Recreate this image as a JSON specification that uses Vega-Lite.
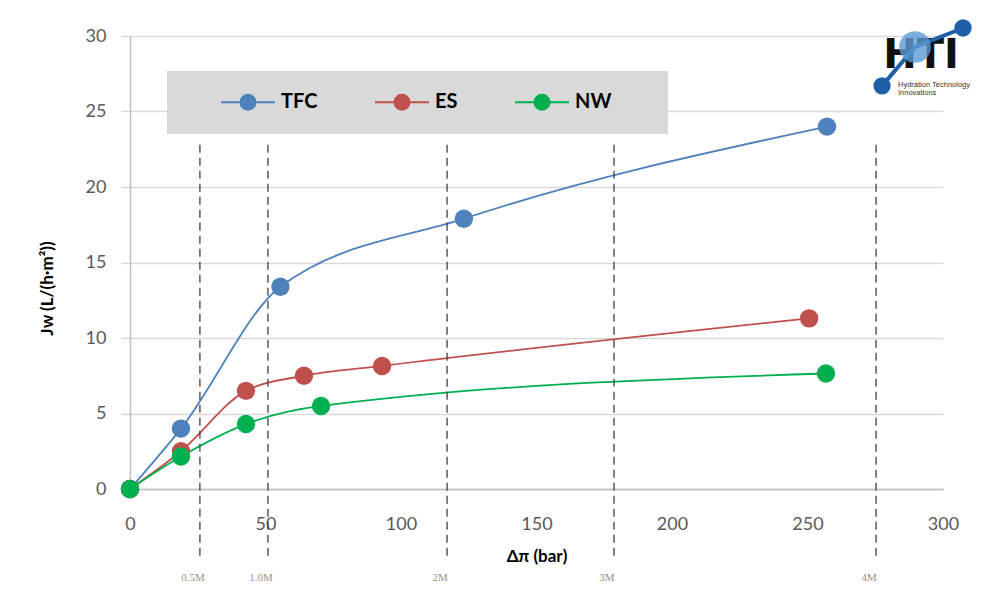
{
  "$schema": "https://vega.github.io/schema/vega-lite/v6.json",
  "width": 813,
  "height": 453,
  "autosize": {"type": "none"},
  "padding": {"left": 130, "top": 36, "right": 56, "bottom": 125},
  "background": "#ffffff",
  "config": {"view": {"stroke": null}},
  "datasets": {
    "series": [
      {"series": "TFC", "x": 0, "y": 0},
      {"series": "TFC", "x": 18.8, "y": 4.0},
      {"series": "TFC", "x": 55.5, "y": 13.4},
      {"series": "TFC", "x": 123.2, "y": 17.9},
      {"series": "TFC", "x": 257.2, "y": 24.0},
      {"series": "ES", "x": 0, "y": 0},
      {"series": "ES", "x": 18.8, "y": 2.5},
      {"series": "ES", "x": 42.8, "y": 6.5},
      {"series": "ES", "x": 64.2, "y": 7.5},
      {"series": "ES", "x": 93.0, "y": 8.15},
      {"series": "ES", "x": 250.6, "y": 11.3},
      {"series": "NW", "x": 0, "y": 0},
      {"series": "NW", "x": 18.8, "y": 2.15},
      {"series": "NW", "x": 42.8, "y": 4.3},
      {"series": "NW", "x": 70.5, "y": 5.5},
      {"series": "NW", "x": 256.8, "y": 7.65}
    ],
    "markers": [
      {"label": "0.5M", "x": 25.8},
      {"label": "1.0M", "x": 50.9},
      {"label": "2M", "x": 117.0},
      {"label": "3M", "x": 178.6},
      {"label": "4M", "x": 275.3}
    ],
    "logoDots": [
      {"part": "a", "x": 277.5, "y": 26.7},
      {"part": "b", "x": 289.7, "y": 29.27},
      {"part": "c", "x": 307.4, "y": 30.53}
    ]
  },
  "encoding": {
    "x": {
      "field": "x", "type": "quantitative",
      "scale": {"domain": [0, 300], "nice": false, "zero": false},
      "axis": {
        "title": "Δπ (bar)",
        "values": [0, 50, 100, 150, 200, 250, 300],
        "grid": false, "ticks": false, "labelFlush": false,
        "domainColor": "#bfbfbf", "domainWidth": 1.5,
        "labelFont": "Lato", "labelFontSize": 18, "labelColor": "#595959",
        "labelPadding": 26,
        "titleFont": "Lato", "titleFontSize": 17, "titleFontWeight": "bold", "titleColor": "#000000",
        "titleY": 67, "titleBaseline": "middle"
      }
    }
  },
  "layer": [
    {
      "data": {"name": "series"},
      "mark": {"type": "line", "interpolate": "monotone", "strokeWidth": 1.8},
      "encoding": {
        "y": {
          "field": "y", "type": "quantitative",
          "scale": {"domain": [0, 30], "nice": false, "zero": false},
          "axis": {
            "title": "Jw (L/(h·m²))",
            "values": [0, 5, 10, 15, 20, 25, 30],
            "grid": true, "gridColor": "#d9d9d9", "gridWidth": 1.5, "labelFlush": false,
            "domainColor": "#bfbfbf", "domainWidth": 1.5,
            "tickColor": "#d9d9d9", "tickSize": 9, "tickWidth": 1.5,
            "labelFont": "Lato", "labelFontSize": 18, "labelColor": "#595959",
            "labelPadding": 15,
            "titleFont": "Lato", "titleFontSize": 17, "titleFontWeight": "bold", "titleColor": "#000000",
            "titleX": -83, "titleY": 252, "titleBaseline": "middle"
          }
        },
        "color": {
          "field": "series", "type": "nominal",
          "scale": {"domain": ["TFC", "ES", "NW"], "range": ["#4f81bd", "#c0504d", "#00b050"]},
          "legend": {
            "orient": "none", "legendX": 37, "legendY": 35,
            "direction": "horizontal", "title": " ", "titleOrient": "right",
            "titleFontSize": 1, "titlePadding": 37,
            "fillColor": "#d9d9d9", "padding": 20,
            "symbolType": "M-2.7,0L2.7,0M-0.75,0A0.75,0.75,0,1,1,0.75,0A0.75,0.75,0,1,1,-0.75,0Z",
            "symbolSize": 400, "symbolStrokeWidth": 2,
            "symbolOffset": 50, "labelOffset": 22, "columnPadding": 23,
            "labelFont": "Lato", "labelFontSize": 20, "labelFontWeight": "bold", "labelColor": "#000000",
            "encode": {
              "symbols": {"update": {
                "fill": {"scale": "color", "field": "value"},
                "stroke": {"scale": "color", "field": "value"},
                "opacity": {"value": 1}
              }}
            }
          }
        }
      }
    },
    {
      "data": {"name": "markers"},
      "mark": {"type": "rule", "color": "#404040", "strokeWidth": 1.3, "strokeDash": [8, 5]},
      "encoding": {"y": {"datum": 22.8, "type": "quantitative"}, "y2": {"datum": -4.5}}
    },
    {
      "data": {"name": "markers"},
      "mark": {"type": "text", "font": "Liberation Serif", "fontSize": 11, "color": "#9b8f82", "dx": -7, "baseline": "middle"},
      "encoding": {"y": {"datum": -5.9, "type": "quantitative"}, "text": {"field": "label", "type": "nominal"}}
    },
    {
      "data": {"name": "series"},
      "mark": {"type": "point", "filled": true, "size": 340, "opacity": 1},
      "encoding": {"y": {"field": "y", "type": "quantitative"}, "color": {"field": "series", "type": "nominal"}}
    },
    {
      "data": {"values": [{"t": "HTI", "px": 291.9, "py": 27.85}]},
      "mark": {"type": "text", "font": "DejaVu Sans", "fontWeight": "bold", "fontSize": 40, "color": "#111111", "baseline": "alphabetic"},
      "encoding": {"x": {"field": "px", "type": "quantitative"}, "y": {"field": "py", "type": "quantitative"}, "text": {"field": "t", "type": "nominal"}}
    },
    {
      "data": {"name": "logoDots"},
      "mark": {"type": "line", "color": "#1f5fa8", "strokeWidth": 4},
      "encoding": {"y": {"field": "y", "type": "quantitative"}}
    },
    {
      "data": {"name": "logoDots"},
      "transform": [{"filter": "datum.part != 'b'"}],
      "mark": {"type": "point", "filled": true, "color": "#1f5fa8", "opacity": 1, "size": 300},
      "encoding": {"y": {"field": "y", "type": "quantitative"}}
    },
    {
      "data": {"name": "logoDots"},
      "transform": [{"filter": "datum.part == 'b'"}],
      "mark": {"type": "point", "filled": true, "color": "#5b9bd5", "opacity": 0.8, "size": 1000},
      "encoding": {"y": {"field": "y", "type": "quantitative"}}
    },
    {
      "data": {"values": [{"t": "Hydration Technology", "px": 283.4, "py": 26.75}, {"t": "Innovations", "px": 283.4, "py": 26.2}]},
      "mark": {"type": "text", "font": "Liberation Sans", "fontSize": 7.5, "color": "#333333", "align": "left", "baseline": "middle"},
      "encoding": {"x": {"field": "px", "type": "quantitative"}, "y": {"field": "py", "type": "quantitative"}, "text": {"field": "t", "type": "nominal"}}
    }
  ]
}
